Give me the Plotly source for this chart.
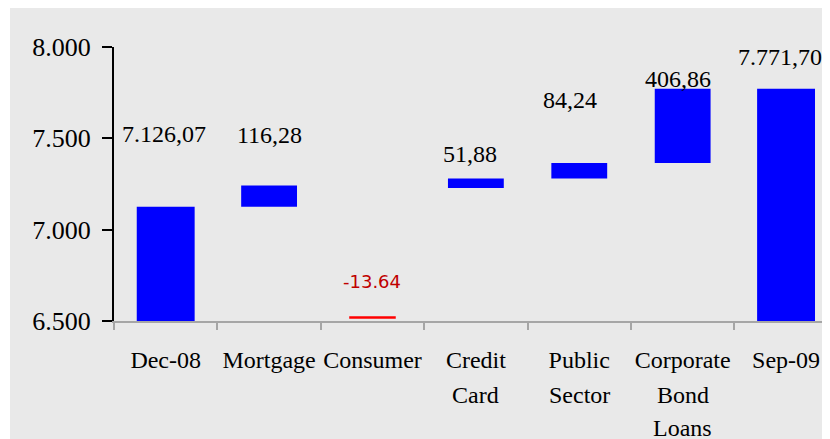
import plotly.graph_objects as go

# ---- data ----
categories = ["Dec-08", "Mortgage", "Consumer", "Credit Card", "Public Sector",
              "Corporate Bond Loans", "Sep-09"]
tick_label_lines = [["Dec-08"], ["Mortgage"], ["Consumer"], ["Credit", "Card"],
                    ["Public", "Sector"], ["Corporate", "Bond", "Loans"], ["Sep-09"]]
start_value = 7126.07
changes = [116.28, -13.64, 51.88, 84.24, 406.86]
end_value = 7771.70
y_ticks = [6500, 7000, 7500, 8000]
y_tick_text = ["6.500", "7.000", "7.500", "8.000"]

# ---- layout geometry (page has an 8px body margin; figure runs past the window) ----
W, H = 830, 439
ML, MT, MB, MR = 106, 39, 126, 8
AXIS_MIN, AXIS_MAX = 6500, 8000
CONSUMER_FLOOR = 6512  # where the reference draws the (negative) consumer bar
LINE_GAP = 33          # px between wrapped category-label lines


def eu(v):
    s = f"{v:,.2f}"
    return s.replace(",", "X").replace(".", ",").replace("X", ".")


# build bars
bases, heights, colors, widths, labels = [], [], [], [], []
bases.append(AXIS_MIN); heights.append(start_value - AXIS_MIN)
colors.append("#0000ff"); widths.append(0.56); labels.append(eu(start_value))
running = start_value
for c in changes:
    if c >= 0:
        bases.append(running); heights.append(c)
        colors.append("#0000ff"); widths.append(0.54); labels.append(eu(c))
    else:
        bases.append(CONSUMER_FLOOR); heights.append(abs(c))
        colors.append("#ff0000"); widths.append(0.45); labels.append(f"{c:.2f}")
    running += c
bases.append(AXIS_MIN); heights.append(end_value - AXIS_MIN)
colors.append("#0000ff"); widths.append(0.56); labels.append(eu(end_value))

fig = go.Figure()
fig.add_trace(go.Bar(
    x=categories, y=heights, base=bases,
    marker=dict(color=colors, line=dict(width=0)),
    width=widths, hoverinfo="skip", showlegend=False,
))

# value labels (pixel offsets above bar tops, as in the reference)
yshifts = [73, 50, 35, 24, 63, 10, 32]
xshifts = [-2, 0, 0, -6, -9, -5, -6]
for i, cat in enumerate(categories):
    top = bases[i] + heights[i]
    is_neg = labels[i].startswith("-")
    fig.add_annotation(
        x=cat, y=top, text=labels[i], showarrow=False,
        yshift=yshifts[i], xshift=xshifts[i], yanchor="middle",
        font=dict(family="DejaVu Sans" if is_neg else "Liberation Serif",
                  size=18 if is_neg else 24,
                  color="#c00000" if is_neg else "#000000"),
    )

# additional lines of wrapped category labels
for cat, lines in zip(categories, tick_label_lines):
    for k, line in enumerate(lines[1:], start=1):
        fig.add_annotation(
            x=cat, xref="x", yref="paper", y=0, yanchor="top",
            yshift=-(34 + LINE_GAP * k) + 8, text=line, showarrow=False,
            font=dict(family="Liberation Serif", size=24, color="#000000"),
        )

plot_w = W - ML - MR
plot_h = H - MT - MB
# thin white strip on the left edge
fig.add_shape(type="rect", xref="paper", yref="paper", layer="below",
              x0=-ML / plot_w - 0.01, x1=(2 - ML) / plot_w,
              y0=-MB / plot_h - 0.05, y1=1 + MT / plot_h + 0.05,
              fillcolor="white", line=dict(width=0))

fig.update_layout(
    width=W, height=H,
    margin=dict(l=ML, r=MR, t=MT, b=MB, pad=0, autoexpand=False),
    paper_bgcolor="#e9e9e9", plot_bgcolor="#e9e9e9",
    font=dict(family="Liberation Serif", color="#000000"),
    xaxis=dict(
        type="category", range=[-0.5, 6.425], automargin=False,
        tickmode="array", tickvals=categories,
        ticktext=[lines[0] for lines in tick_label_lines],
        tickangle=0,
        tickson="boundaries", ticks="outside", ticklen=7, tickwidth=2,
        tickcolor="#a6a6a6", showline=True, linecolor="#a6a6a6", linewidth=2,
        showgrid=False, zeroline=False,
        tickfont=dict(family="Liberation Serif", size=24, color="#000000"),
        ticklabelstandoff=16,
    ),
    yaxis=dict(
        range=[AXIS_MIN, AXIS_MAX], tickmode="array", automargin=False,
        tickvals=y_ticks, ticktext=y_tick_text,
        ticks="outside", ticklen=10, tickwidth=2, tickcolor="#000000",
        showline=True, linecolor="#000000", linewidth=2,
        showgrid=False, zeroline=False,
        tickfont=dict(family="Liberation Serif", size=26, color="#000000"),
        ticklabelstandoff=6,
    ),
)

fig.write_html("out.html")
